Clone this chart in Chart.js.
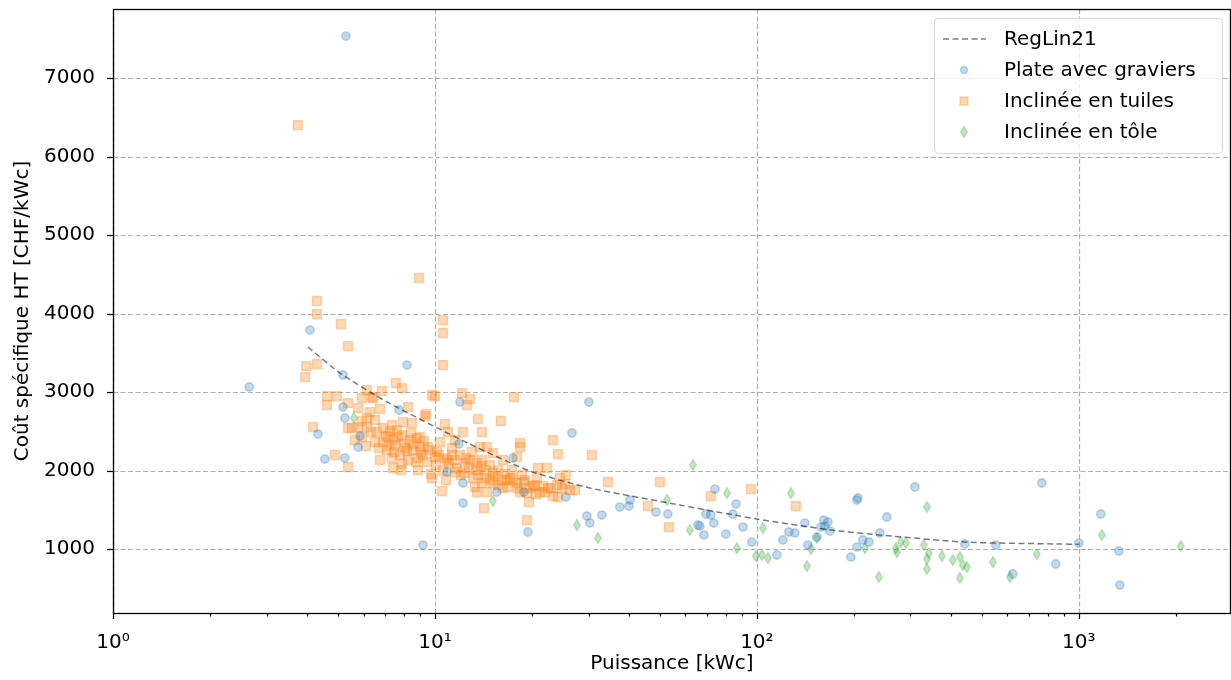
<!DOCTYPE html>
<html>
<head>
<meta charset="utf-8">
<title>Coût spécifique vs puissance</title>
<script src="https://cdn.jsdelivr.net/npm/chart.js"></script>
<style>
    body { margin: 0; background: #ffffff; overflow: hidden; }
    #wrap { width: 1231px; height: 680px; overflow: hidden; }
    #chart { display: block; }
</style>
</head>
<body>
<div id="wrap"><canvas id="chart" width="1231" height="680"></canvas></div>
<script>
// Plate avec graviers (puissance kWc, coût CHF/kWc)
const plateX = [5.29, 2.65, 4.09, 5.18, 8.19, 5.18, 5.25, 4.33, 5.85, 5.77, 4.55, 5.25, 7.73, 10.90, 11.96,
    11.87, 12.22, 9.18, 12.22, 15.57, 18.90, 17.47, 26.64, 30.07, 25.51, 29.65, 30.30, 33.0, 19.45, 37.54,
    40.05, 40.34, 48.57, 52.9, 65.6, 66.5, 68.5, 69.4, 71.9, 73.5, 74.1, 86.1, 84.2, 80.1, 90.5,
    96.5, 115.4, 120.4, 125.7, 131.2, 140.9, 144.0, 153.6, 158.1, 161.5, 166.2, 168.6, 162.6, 309.6, 204.4,
    205.9, 253.3, 241.0, 213.4, 222.8, 204.4, 195.9, 442.6, 552.4, 767.6, 848.5, 623.7, 1170, 1000, 1331, 1341];
const plateY = [7535, 3064, 3790, 3217, 3344, 2809, 2669, 2465, 2440, 2299, 2147, 2159, 2771, 1981, 2873,
    2338, 1841, 1051, 1586, 1726, 1726, 2159, 2478, 2873, 1662, 1420, 1331, 1433, 1217, 1535,
    1548, 1624, 1471, 1446, 1306, 1293, 1178, 1446, 1433, 1331, 1764, 1573, 1446, 1191, 1280,
    1089, 924, 1115, 1217, 1204, 1331, 1051, 1153, 1280, 1369, 1344, 1229, 1293, 1790, 1624,
    1650, 1408, 1204, 1115, 1089, 1025, 898, 1064, 1051, 1841, 809, 682, 1446, 1076, 975, 541];

// Inclinée en tuiles
const tuilesX = [3.75, 8.92, 4.30, 4.30, 5.11, 5.37, 3.98, 4.30, 3.95, 10.59, 10.59, 10.59, 7.56, 7.90, 6.84,
    6.37, 5.37, 5.77, 6.75, 8.25, 10.0, 12.13, 12.57, 12.85, 17.60, 4.62, 4.96, 4.62, 4.18, 5.37,
    5.77, 6.15, 6.51, 6.90, 6.60, 7.25, 7.96, 8.48, 9.31, 10.74, 6.90, 7.41, 7.90, 8.79, 7.09,
    8.07, 8.98, 9.51, 10.36, 11.29, 8.25, 8.85, 10.0, 10.90, 11.54, 12.39, 4.89, 5.37, 7.41, 7.90,
    9.72, 10.51, 11.54, 13.60, 16.03, 14.0, 12.22, 23.26, 18.37, 18.37, 24.10, 17.98, 13.80, 14.51, 13.03,
    15.14, 16.26, 13.50, 14.0, 12.39, 13.60, 15.14, 16.15, 17.10, 18.63, 20.89, 22.28, 20.74, 13.31, 14.0,
    15.14, 16.73, 17.98, 19.73, 21.19, 22.44, 23.93, 27.22, 13.50, 14.51, 16.26, 18.37, 24.10, 19.59, 14.20,
    19.31, 30.73, 34.45, 49.96, 71.95, 95.8, 45.86, 53.3, 132.2, 9.38, 9.79, 8.98, 7.14, 7.51, 7.67,
    8.36, 8.54, 7.79, 9.18, 10.14, 10.74, 11.96, 12.85, 14.82, 15.70, 17.34, 19.04, 20.45, 24.81, 25.51,
    7.35, 5.93, 6.28, 11.54, 10.98, 6.15, 6.42, 5.93,
    5.93, 6.10, 6.33, 6.51, 6.70, 7.04, 7.20, 7.46, 7.62, 8.01, 8.19, 8.42, 8.61, 8.73, 9.05,
    9.24, 9.45, 9.65, 10.07, 10.29, 10.59, 11.05, 11.29, 11.70, 12.04, 12.49, 12.76, 13.12, 13.41, 13.90,
    14.20, 14.41, 14.82, 15.36, 15.70, 16.50, 16.86, 17.47, 18.10, 18.90, 19.31, 20.16, 20.59, 21.65, 21.97,
    22.93, 23.26, 25.33, 26.26, 24.44, 5.64, 5.52, 6.15, 7.35, 7.84, 8.85, 6.75, 9.79, 10.82];
const tuilesY = [6400, 4453, 4160, 3994, 3867, 3586, 3331, 3357, 3191, 3917, 3752, 3344, 3115, 3051, 3013,
    2936, 2860, 2796, 2784, 2809, 2949, 2987, 2835, 2911, 2936, 2949, 2949, 2835, 2554, 2542,
    2554, 2669, 2643, 2542, 2491, 2503, 2618, 2605, 2694, 2593, 2363, 2389, 2452, 2414, 2261,
    2287, 2299, 2299, 2363, 2287, 2134, 2159, 2172, 2134, 2134, 2096, 2198, 2045, 2032, 2083,
    1956, 1739, 1981, 2656, 2631, 2491, 2491, 2389, 2350, 2299, 2210, 2172, 2299, 2299, 2236,
    2223, 2134, 2096, 2134, 1968, 1943, 1968, 1879, 1905, 1943, 2032, 2032, 1905, 1790, 1841,
    1841, 1879, 1841, 1777, 1726, 1777, 1815, 1752, 1726, 1726, 1777, 1726, 1662, 1599, 1522,
    1369, 2198, 1854, 1854, 1675, 1764, 1548, 1280, 1548, 2720, 2962, 2427, 2440, 2325, 2427,
    2389, 2261, 2198, 2198, 2236, 2159, 2198, 2134, 2070, 2006, 2006, 1879, 1815, 1777, 1943,
    2580, 2924, 2745, 2389, 2491, 3026, 2924, 2631,
    2427, 2312, 2491, 2363, 2287, 2427, 2312, 2236, 2516, 2338, 2249, 2478, 2338, 2108, 2236,
    2376, 2108, 2261, 2070, 2198, 2006, 2096, 2198, 2032, 1943, 2159, 2032, 1905, 2006, 2058,
    1905, 2006, 1879, 1930, 1815, 1956, 1790, 1879, 1777, 1854, 1713, 1803, 1701, 1803, 1726,
    1777, 1675, 1828, 1752, 1905, 2389, 2542, 2554, 2159, 2006, 2006, 2134, 1905, 1879];

// Inclinée en tôle
const toleX = [5.60, 15.14, 27.61, 32.08, 63.3, 52.6, 80.7, 61.9, 86.7, 104.4, 103.6, 108.2, 99.3, 127.5, 147.2,
    153.6, 143.0, 337.3, 216.5, 270.2, 272.1, 280.0, 290.2, 330.1, 337.3, 342.1, 337.3, 375.4, 406.1, 426.9,
    436.2, 448.9, 426.9, 540.7, 610.6, 740.6, 239.3, 1179, 2074];
const toleY = [2669, 1611, 1306, 1140, 2070, 1624, 1713, 1242, 1013, 1268, 924, 885, 911, 1713, 1000,
    1140, 783, 1535, 1013, 1013, 962, 1089, 1076, 1051, 873, 949, 745, 911, 860, 898,
    796, 771, 631, 834, 643, 936, 643, 1178, 1038];

// RegLin21
const regX = [4.03, 5.07, 7.1, 12.65, 19.7, 30.3, 57.7, 100, 181, 441, 873, 1000];
const regY = [3574, 3242, 2873, 2350, 1994, 1777, 1561, 1382, 1229, 1089, 1064, 1060];

const xTickValues = [1, 10, 100, 1000];
const xTickLabels = ['10\u2070', '10\u00b9', '10\u00b2', '10\u00b3'];
const yTickValues = [1000, 2000, 3000, 4000, 5000, 6000, 7000];
const legendLabels = ['RegLin21', 'Plate avec graviers', 'Inclinée en tuiles', 'Inclinée en tôle'];

const X_MIN = 1, X_MAX = 2970, Y_MIN = 185, Y_MAX = 7880;

// minor ticks 2..9 in each decade
const xMinor = [];
xTickValues.forEach(d => { for (let k = 2; k <= 9; k++) if (d * k < X_MAX) xMinor.push(d * k); });
const xAllTicks = xTickValues.concat(xMinor).sort((a, b) => a - b);

const FONT = "'DejaVu Sans', sans-serif";
Chart.defaults.font.family = FONT;
Chart.defaults.font.size = 20;
Chart.defaults.color = '#000000';

const BLUE = 'rgba(31,119,180,0.28)';
const ORANGE = 'rgba(255,127,14,0.3)';
const GREEN = 'rgba(44,160,44,0.28)';

function pts(xs, ys) {
    return xs.map((x, i) => ({ x: x, y: ys[i] }));
}

// thin diamond like matplotlib 'd'
function makeDiamond() {
    const c = document.createElement('canvas');
    c.width = 10; c.height = 14;
    const g = c.getContext('2d');
    g.beginPath();
    g.moveTo(5, 1.5); g.lineTo(8.3, 7); g.lineTo(5, 12.5); g.lineTo(1.7, 7); g.closePath();
    g.fillStyle = GREEN; g.fill();
    g.strokeStyle = GREEN; g.lineWidth = 1.4; g.stroke();
    return c;
}
const diamond = makeDiamond();

const framePlugin = {
    id: 'frame',
    beforeDatasetsDraw(chart) {
        const { ctx, chartArea: a, scales: { x, y } } = chart;
        ctx.save();
        ctx.strokeStyle = '#b0b0b0';
        ctx.lineWidth = 1.2;
        ctx.setLineDash([5, 2.5]);
        xTickValues.forEach(v => {
            const px = Math.round(x.getPixelForValue(v)) + 0.5;
            ctx.beginPath(); ctx.moveTo(px, a.top); ctx.lineTo(px, a.bottom); ctx.stroke();
        });
        yTickValues.forEach(v => {
            const py = Math.round(y.getPixelForValue(v)) + 0.5;
            ctx.beginPath(); ctx.moveTo(a.left, py); ctx.lineTo(a.right, py); ctx.stroke();
        });
        ctx.restore();
    },
    afterDraw(chart) {
        const { ctx, chartArea: a, scales: { x, y } } = chart;
        ctx.save();
        ctx.setLineDash([]);
        ctx.strokeStyle = '#000000';
        ctx.lineWidth = 1.2;
        // ticks
        xAllTicks.forEach(v => {
            const px = Math.round(x.getPixelForValue(v)) + 0.5;
            const len = xTickValues.includes(v) ? 6 : 3.5;
            ctx.beginPath(); ctx.moveTo(px, a.bottom); ctx.lineTo(px, a.bottom + len); ctx.stroke();
        });
        yTickValues.forEach(v => {
            const py = Math.round(y.getPixelForValue(v)) + 0.5;
            ctx.beginPath(); ctx.moveTo(a.left, py); ctx.lineTo(a.left - 6, py); ctx.stroke();
        });
        // spines
        ctx.lineWidth = 1.3;
        ctx.strokeRect(a.left + 0.5, a.top + 0.5, a.right - a.left - 1, a.bottom - a.top);

        // legend box
        const bx = 934.5, by = 18.5, bw = 288, bh = 135, r = 4;
        ctx.beginPath();
        ctx.moveTo(bx + r, by);
        ctx.arcTo(bx + bw, by, bx + bw, by + bh, r);
        ctx.arcTo(bx + bw, by + bh, bx, by + bh, r);
        ctx.arcTo(bx, by + bh, bx, by, r);
        ctx.arcTo(bx, by, bx + bw, by, r);
        ctx.closePath();
        ctx.fillStyle = 'rgba(255,255,255,0.8)';
        ctx.fill();
        ctx.strokeStyle = '#d6d6d6';
        ctx.lineWidth = 1;
        ctx.stroke();

        const rows = [39, 70, 101, 132];
        // dashed line sample
        ctx.strokeStyle = 'rgba(0,0,0,0.5)';
        ctx.lineWidth = 1.5;
        ctx.setLineDash([6, 3.5]);
        ctx.beginPath(); ctx.moveTo(943, rows[0]); ctx.lineTo(986, rows[0]); ctx.stroke();
        ctx.setLineDash([]);
        // circle
        ctx.beginPath(); ctx.arc(964, rows[1], 3.5, 0, Math.PI * 2);
        ctx.fillStyle = BLUE; ctx.fill(); ctx.strokeStyle = BLUE; ctx.lineWidth = 1.3; ctx.stroke();
        // square
        ctx.beginPath(); ctx.rect(960, rows[2] - 4, 8, 8);
        ctx.fillStyle = ORANGE; ctx.fill(); ctx.strokeStyle = ORANGE; ctx.stroke();
        // diamond
        ctx.drawImage(diamond, 959, rows[3] - 7);

        ctx.fillStyle = '#000000';
        ctx.font = '20px ' + FONT;
        ctx.textBaseline = 'middle';
        ctx.textAlign = 'left';
        legendLabels.forEach((t, i) => ctx.fillText(t, 1004, rows[i] + 1));
        ctx.restore();
    }
};

new Chart(document.getElementById('chart').getContext('2d'), {
    type: 'scatter',
    data: {
        datasets: [
            {
                type: 'line',
                label: legendLabels[0],
                data: pts(regX, regY),
                borderColor: 'rgba(0,0,0,0.52)',
                borderWidth: 1.5,
                borderDash: [6, 3.5],
                pointRadius: 0,
                tension: 0.2,
                fill: false
            },
            {
                label: legendLabels[1],
                data: pts(plateX, plateY),
                pointStyle: 'circle',
                pointRadius: 4.2,
                backgroundColor: BLUE,
                borderColor: BLUE,
                borderWidth: 1.4
            },
            {
                label: legendLabels[2],
                data: pts(tuilesX, tuilesY),
                pointStyle: 'rect',
                pointRadius: 6.3,
                backgroundColor: ORANGE,
                borderColor: ORANGE,
                borderWidth: 1.4
            },
            {
                label: legendLabels[3],
                data: pts(toleX, toleY),
                pointStyle: diamond,
                pointRadius: 5,
                backgroundColor: GREEN,
                borderColor: GREEN
            }
        ]
    },
    options: {
        responsive: false,
        animation: false,
        layout: { autoPadding: false, padding: { top: 9, right: 0, bottom: 0, left: 0 } },
        plugins: {
            legend: { display: false },
            tooltip: { enabled: false }
        },
        scales: {
            x: {
                type: 'logarithmic',
                min: X_MIN,
                max: X_MAX,
                afterBuildTicks: s => { s.ticks = xAllTicks.map(v => ({ value: v })); },
                afterFit: s => { s.height = 67; s.paddingLeft = 0; s.paddingRight = 0; },
                grid: { display: false },
                border: { display: false },
                ticks: {
                    autoSkip: false,
                    maxRotation: 0,
                    padding: 10,
                    callback: v => {
                        const i = xTickValues.indexOf(v);
                        return i >= 0 ? xTickLabels[i] : '';
                    }
                },
                title: { display: true, text: 'Puissance [kWc]', padding: { top: 0, bottom: 4 } }
            },
            y: {
                type: 'linear',
                min: Y_MIN,
                max: Y_MAX,
                afterBuildTicks: s => { s.ticks = yTickValues.map(v => ({ value: v })); },
                afterFit: s => { s.width = 113; s.paddingTop = 0; s.paddingBottom = 0; },
                grid: { display: false },
                border: { display: false },
                ticks: {
                    padding: 10,
                    callback: v => String(v)
                },
                title: { display: true, text: 'Coût spécifique HT [CHF/kWc]', padding: { top: 11, bottom: 0 } }
            }
        }
    },
    plugins: [framePlugin]
});
</script>
</body>
</html>
